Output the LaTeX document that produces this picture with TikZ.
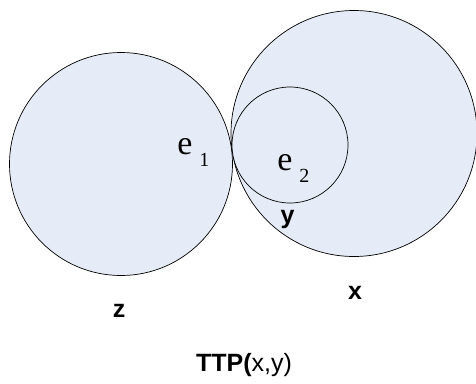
\documentclass[tikz,border=0pt]{standalone}
\usepackage{fontspec}
\setmainfont{Liberation Serif}
\newfontfamily\labfont{Liberation Sans}
\definecolor{vennfill}{RGB}{230,236,247}
\newcommand{\elab}[1]{e\kern7pt\raisebox{-11.5pt}{\fontsize{20}{20}\selectfont #1}}
\begin{document}
\begin{tikzpicture}[x=1pt,y=-1pt,line width=0.7pt,
	venn/.style={circle,draw,fill=vennfill,inner sep=0pt},
	setlab/.style={font=\labfont\bfseries\fontsize{25}{25}\selectfont,anchor=base,inner sep=0pt},
	elem/.style={font=\fontsize{34}{34}\selectfont,anchor=base west,inner sep=0pt}]
	\useasboundingbox (0,0) rectangle (476,383);
	% the three regions
	\node[venn,minimum size=223pt] (z) at (121,164) {};
	\node[venn,minimum size=246pt] (x) at (354,133.5) {};
	\node[venn,minimum size=116pt] (y) at (290,145) {};
	% names of the regions
	\foreach \n/\px/\py/\t in {zlab/119/317/z,xlab/355/299/x,ylab/287.5/223/y}{
		\node[setlab] (\n) at (\px,\py) {\t};
	}
	% elements
	\node[elem] (e1) at (177,154.5) {\elab{1}};
	\node[elem] (e2) at (277,170.5) {\elab{2}};
	\node[setlab] (ttp) at (244,371) {TTP(\mdseries x,y)};
\end{tikzpicture}
\end{document}
